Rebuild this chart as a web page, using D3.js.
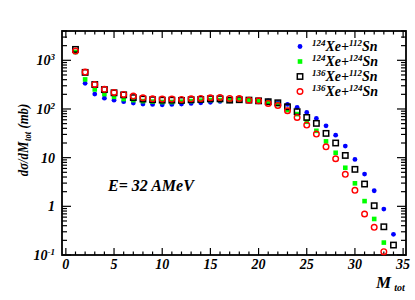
<!DOCTYPE html>
<head>
  <meta charset="utf-8">
  <script src="https://d3js.org/d3.v7.min.js"></script>
  <style>
    body { margin: 0; background: #fff; }
    text { font-family: "Liberation Serif", "Times New Roman", serif; font-weight: bold; font-style: italic; fill: #000; }
  </style>
</head>
<body>
<script>
  // multiplicity values
  var mult = d3.range(1, 35);

  // cross sections (mb)
  var xe124sn112 = [1474, 336, 202, 167, 152, 141, 132, 126, 124, 122, 124, 126, 130, 134, 137, 143, 147,
    152, 152, 150, 147, 135, 124, 108, 85, 64, 45, 29, 17.3, 9.2, 4.6, 2.09, 0.88, 0.266];
  var xe124sn124 = [1480, 405, 252, 202, 178, 160, 152, 145, 142, 139, 139, 141, 145, 148, 152, 152, 150,
    152, 152, 145, 139, 126, 95, 78.5, 54.6, 35.6, 21.6, 12.6, 6.2, 2.97, 1.28, 0.55, 0.18];
  var xe136sn112 = [1675, 565, 318, 250, 215, 195, 171, 160, 155, 152, 152, 150, 155, 157, 162, 162, 152,
    155, 152, 147, 141, 134, 111, 88, 67, 50.6, 31.5, 20, 11.1, 5.75, 2.87, 1.03, 0.38, 0.16];
  var xe136sn124 = [1545, 573, 320, 253, 219, 199, 184, 170, 162, 160, 160, 157, 162, 165, 170, 173, 165,
    165, 152, 147, 130, 118, 92, 67, 46.7, 30.5, 16.7, 9.5, 4.54, 2.13, 0.695, 0.37, 0.117];

  var legendA = ["124", "124", "136", "136"];
  var legendB = ["112", "124", "112", "124"];
  var xTicks = [0, 5, 10, 15, 20, 25, 30, 35];

  var outerWidth = 415, outerHeight = 300;
  var margin = {top: 31, left: 62, right: 9, bottom: 45};
  var width = outerWidth - margin.left - margin.right,
    height = outerHeight - margin.top - margin.bottom;

  var svg = d3.select("body").append("svg")
    .attr("width", outerWidth).attr("height", outerHeight);
  var g = svg.append("g").attr("transform", "translate(" + margin.left + "," + margin.top + ")");

  var xScale = d3.scaleLinear().domain([-0.4, 35.3]).range([0, width]);
  var yScale = d3.scaleLog().domain([0.1, 4000]).range([height, 0]);

  // ticks on all four sides, pointing inward
  var minorX = d3.range(0, 36);
  var logTicks = [];
  [0.1, 1, 10, 100, 1000].forEach(function(d) {
    for (var k = 1; k < 10; k++) if (d * k <= 4000) logTicks.push(d * k);
  });

  function tickLen(v) { return v % 5 === 0 ? 7 : 3.5; }
  function ytickLen(v) { var l = Math.log10(v); return Math.abs(l - Math.round(l)) < 1e-6 ? 9 : 5; }

  g.selectAll(".xb").data(minorX).enter().append("line")
    .attr("x1", d => xScale(d)).attr("x2", d => xScale(d))
    .attr("y1", height).attr("y2", d => height - tickLen(d))
    .attr("stroke", "#000").attr("stroke-width", 1.2);
  g.selectAll(".xt").data(minorX).enter().append("line")
    .attr("x1", d => xScale(d)).attr("x2", d => xScale(d))
    .attr("y1", 0).attr("y2", d => tickLen(d))
    .attr("stroke", "#000").attr("stroke-width", 1.2);
  g.selectAll(".yl").data(logTicks).enter().append("line")
    .attr("x1", 0).attr("x2", d => ytickLen(d))
    .attr("y1", d => yScale(d)).attr("y2", d => yScale(d))
    .attr("stroke", "#000").attr("stroke-width", 1.2);
  g.selectAll(".yr").data(logTicks).enter().append("line")
    .attr("x1", width).attr("x2", d => width - ytickLen(d))
    .attr("y1", d => yScale(d)).attr("y2", d => yScale(d))
    .attr("stroke", "#000").attr("stroke-width", 1.2);

  g.append("rect").attr("width", width).attr("height", height)
    .attr("fill", "none").attr("stroke", "#000").attr("stroke-width", 1.8);

  // x tick labels
  g.selectAll(".xl").data(xTicks).enter().append("text")
    .attr("x", d => xScale(d)).attr("y", height + 14)
    .attr("text-anchor", "middle").attr("font-size", 14)
    .text(d => d);

  // y tick labels
  var yLab = [{v: 1000, b: "10", s: "3"}, {v: 100, b: "10", s: "2"}, {v: 10, b: "10", s: ""},
    {v: 1, b: "1", s: ""}, {v: 0.1, b: "10", s: "-1"}];
  yLab.forEach(function(d) {
    var t = g.append("text").attr("x", -7).attr("y", yScale(d.v) + 5)
      .attr("text-anchor", "end").attr("font-size", 14);
    t.append("tspan").text(d.b);
    if (d.s) t.append("tspan").attr("dy", -5).attr("font-size", 9).text(d.s);
  });

  // series
  var xs = function(i) { return xScale(mult[i]); };
  var vis = function(v) { return v >= 0.1; };

  g.selectAll(".blue").data(xe124sn112.filter(vis)).enter().append("circle")
    .attr("cx", (d, i) => xs(i)).attr("cy", d => yScale(d)).attr("r", 2.4).attr("fill", "#0000ff");
  g.selectAll(".green").data(xe124sn124.filter(vis)).enter().append("rect")
    .attr("x", (d, i) => xs(i) - 2.3).attr("y", d => yScale(d) - 2.3)
    .attr("width", 4.6).attr("height", 4.6).attr("fill", "#00ff00");
  g.selectAll(".black").data(xe136sn112.filter(vis)).enter().append("rect")
    .attr("x", (d, i) => xs(i) - 2.7).attr("y", d => yScale(d) - 2.7)
    .attr("width", 5.4).attr("height", 5.4).attr("fill", "none")
    .attr("stroke", "#000").attr("stroke-width", 1.5);
  g.selectAll(".red").data(xe136sn124.filter(vis)).enter().append("circle")
    .attr("cx", (d, i) => xs(i)).attr("cy", d => yScale(d)).attr("r", 2.8)
    .attr("fill", "none").attr("stroke", "#ff0000").attr("stroke-width", 1.4);

  // legend
  var lg = svg.append("g");
  var rowsY = [46, 61, 76, 91];
  lg.append("circle").attr("cx", 300).attr("cy", rowsY[0] + 0.5).attr("r", 2.4).attr("fill", "#0000ff");
  lg.append("rect").attr("x", 297.7).attr("y", rowsY[1] - 1.8).attr("width", 4.6).attr("height", 4.6).attr("fill", "#00ff00");
  lg.append("rect").attr("x", 297.3).attr("y", rowsY[2] - 2.2).attr("width", 5.4).attr("height", 5.4)
    .attr("fill", "none").attr("stroke", "#000").attr("stroke-width", 1.5);
  lg.append("circle").attr("cx", 300).attr("cy", rowsY[3] + 0.5).attr("r", 2.8)
    .attr("fill", "none").attr("stroke", "#ff0000").attr("stroke-width", 1.4);
  legendA.forEach(function(a, i) {
    var t = lg.append("text").attr("x", 312).attr("y", rowsY[i] + 5).attr("font-size", 14);
    t.append("tspan").attr("font-size", 9).attr("dy", -5).text(a);
    t.append("tspan").attr("dy", 5).text("Xe+");
    t.append("tspan").attr("font-size", 9).attr("dy", -5).text(legendB[i]);
    t.append("tspan").attr("dy", 5).text("Sn");
  });

  // annotation
  svg.append("text").attr("x", 108).attr("y", 191).attr("font-size", 16).text("E= 32 AMeV");

  // x label
  var xl = svg.append("text").attr("x", 376).attr("y", 288).attr("font-size", 17);
  xl.append("tspan").text("M");
  xl.append("tspan").attr("font-size", 10).attr("dx", 3).attr("dy", 3).text("tot");

  // y label, squeezed a little along its length
  var yl = svg.append("text").attr("transform", "translate(28,140) rotate(-90) scale(0.85,1)")
    .attr("text-anchor", "middle").attr("font-size", 15);
  yl.append("tspan").text("d\u03c3/dM");
  yl.append("tspan").attr("font-size", 10).attr("dx", 1).attr("dy", 3).text("tot");
  yl.append("tspan").attr("dx", 4).attr("dy", -3).text("(mb)");
</script>
</body>
